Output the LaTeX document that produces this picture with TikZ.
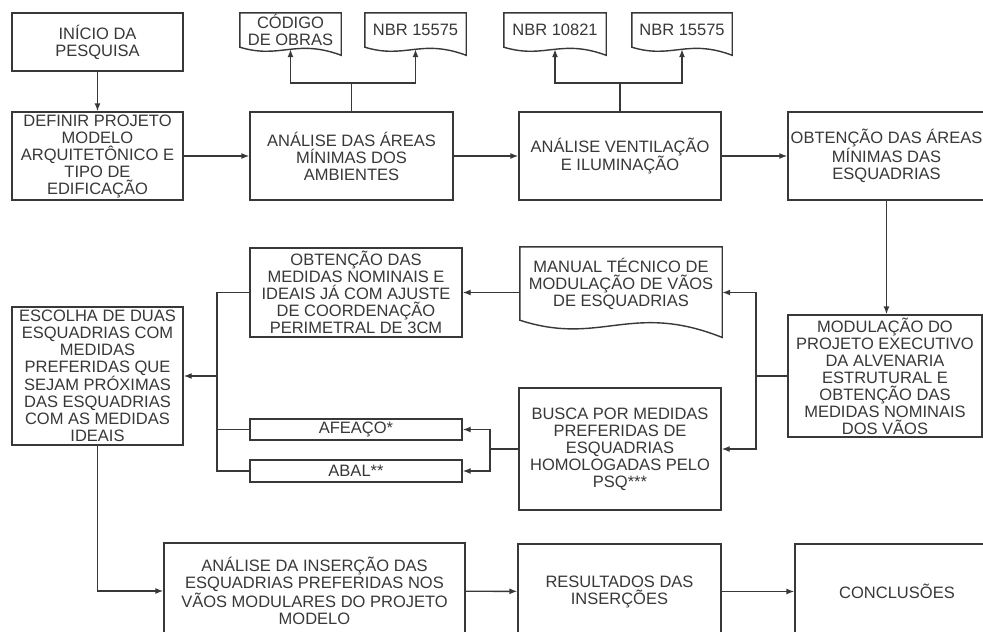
\documentclass[tikz,border=0pt]{standalone}
\usepackage{fontspec}
\setmainfont{Liberation Sans}
\usetikzlibrary{calc,arrows.meta}

\definecolor{ink}{HTML}{383838}

\tikzset{
    box/.style={draw=ink, line width=1.4pt, text=ink, align=center, inner sep=0pt,
        minimum width=#1, font=\fontsize{16.5}{17}\selectfont},
    box/.default=202,
    doc/.style={text=ink, align=center, inner sep=0pt,
        minimum width=#1, minimum height=34, font=\fontsize{16.5}{17}\selectfont},
    doc/.default=101,
    link/.style={draw=ink, line width=1.4pt}
}

% outline of a document shape round a node (wavy bottom)
\newcommand{\docoutline}[1]{%
    \draw[link] let \p1=(#1.north west), \p2=(#1.south east) in
        (\p1) -- (\x2,\y1) -- (\x2,{\y2-0.235*(\y1-\y2)})
        .. controls ({\x1+0.55*(\x2-\x1)},{\y1-0.741*(\y1-\y2)})
        and ({\x1+0.4*(\x2-\x1)},{\y1-1.358*(\y1-\y2)}) .. (\x1,\y2) -- cycle;}

\begin{document}
\begin{tikzpicture}[>={Latex[length=8pt,width=6pt]}, x=1pt, y=-1pt]
\useasboundingbox[fill=white] (0,0) rectangle (983,632);

% first row
\node[box=171, minimum height=58] (n1) at (97.5,42) {INÍCIO DA\\PESQUISA};
\node[box=171, minimum height=88] (n2) at (97.5,156) {DEFINIR PROJETO\\MODELO\\ARQUITETÔNICO E\\TIPO DE\\EDIFICAÇÃO};
\node[box=203, minimum height=88] (n3) at (351.5,156) {ANÁLISE DAS ÁREAS\\MÍNIMAS DOS\\AMBIENTES};
\node[box=202, minimum height=88] (n4) at (620,156) {ANÁLISE VENTILAÇÃO\\E ILUMINAÇÃO};
\node[box=197, minimum height=88] (n5) at (886.5,156) {OBTENÇÃO DAS ÁREAS\\MÍNIMAS DAS\\ESQUADRIAS};

% norms
\node[doc] (c1) at (290.5,30) {CÓDIGO\\DE OBRAS};
\node[doc] (c2) at (415.5,30) {NBR 15575};
\node[doc=102] (c3) at (555,30) {NBR 10821};
\node[doc=100] (c4) at (682,30) {NBR 15575};
\foreach \d in {c1,c2,c3,c4}
    \docoutline{\d};

% middle part
\node[box=194, minimum height=122] (n6) at (885,376) {MODULAÇÃO DO\\PROJETO EXECUTIVO\\DA ALVENARIA\\ESTRUTURAL E\\OBTENÇÃO DAS\\MEDIDAS NOMINAIS\\DOS VÃOS};
\node[doc=202, minimum height=73] (m1) at (621,283.5) {MANUAL TÉCNICO DE\\MODULAÇÃO DE VÃOS\\DE ESQUADRIAS};
\docoutline{m1};
\node[box=202, minimum height=122] (b1) at (620,449) {BUSCA POR MEDIDAS\\PREFERIDAS DE\\ESQUADRIAS\\HOMOLOGADAS PELO\\PSQ***};
\node[box=212, minimum height=89] (o1) at (356,292.5) {OBTENÇÃO DAS\\MEDIDAS NOMINAIS E\\IDEAIS JÁ COM AJUSTE\\DE COORDENAÇÃO\\PERIMETRAL DE 3CM};
\node[box=212, minimum height=21] (a1) at (356,429.5) {AFEAÇO*};
\node[box=212, minimum height=22] (a2) at (356,471) {ABAL**};
\node[box=171, minimum height=138] (e1) at (97.5,376) {ESCOLHA DE DUAS\\ESQUADRIAS COM\\MEDIDAS\\PREFERIDAS QUE\\SEJAM PRÓXIMAS\\DAS ESQUADRIAS\\COM AS MEDIDAS\\IDEAIS};

% last row
\node[box=301, minimum height=96] (r1) at (314.5,591) {ANÁLISE DA INSERÇÃO DAS\\ESQUADRIAS PREFERIDAS NOS\\VÃOS MODULARES DO PROJETO\\MODELO};
\node[box=203, minimum height=95] (r2) at (619.5,591.5) {RESULTADOS DAS\\INSERÇÕES};
\node[box=204, minimum height=95] (r3) at (897,591.5) {CONCLUSÕES};

% junction points
\coordinate (t1) at (351.5,83);
\coordinate (t2) at (620,83);
\coordinate (jr) at (756,376);
\coordinate (jb) at (490,449);
\coordinate (jl) at (217,376);

% connectors
\draw[link,->] (n1) -- (n2);
\draw[link,->] (n2) -- (n3);
\draw[link,->] (n3) -- (n4);
\draw[link,->] (n4) -- (n5);
\draw[link] (n3.north) -- (t1);
\draw[link,->] (t1) -| ([yshift=-2pt]c1.south);
\draw[link,->] (t1) -| ([yshift=-2pt]c2.south);
\draw[link] (n4.north) -- (t2);
\draw[link,->] (t2) -| ([yshift=-2pt]c3.south);
\draw[link,->] (t2) -| ([yshift=-2pt]c4.south);
\draw[link,->] (n5.south) -- (n5.south |- n6.north);

\draw[link] (n6.west) -- (jr);
\draw[link,->] (jr) |- (m1.east |- o1.east);
\draw[link,->] (jr) |- (b1.east);
\draw[link,->] (m1.west |- o1.east) -- (o1.east);
\draw[link] (b1.west) -- (jb);
\draw[link,->] (jb) |- (a1.east);
\draw[link,->] (jb) |- (a2.east);

\draw[link] (o1.west) -| (jl);
\draw[link] (a1.west) -| (jl);
\draw[link] (a2.west) -| (jl);
\draw[link,->] (jl) -- (e1.east);

\draw[link,->] (e1.south) |- (r1.west);
\draw[link,->] (r1) -- (r2);
\draw[link,->] (r2) -- (r3);

\end{tikzpicture}
\end{document}
